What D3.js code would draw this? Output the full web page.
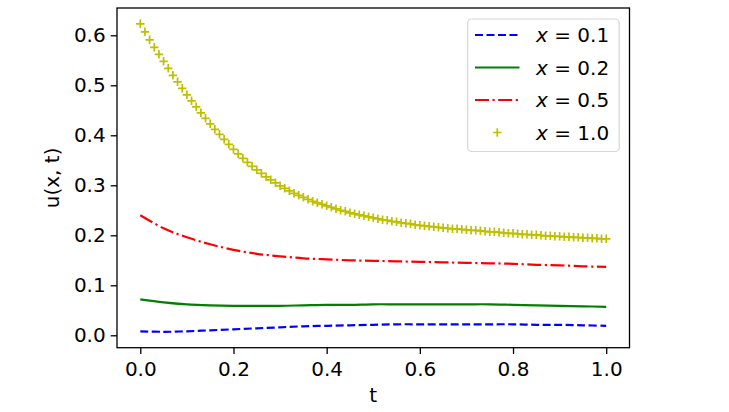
<!DOCTYPE html>
<html>
<head>
<meta charset="utf-8">
<script src="https://cdn.jsdelivr.net/npm/d3@7"></script>
<style>
  body { margin: 0; background: #fff; }
  text { font-family: "DejaVu Sans", sans-serif; fill: #000; }
</style>
</head>
<body>
<div id="chart"></div>
<script>
// t grid for the three lines (step 0.05)
var tLine = [0, 0.05, 0.1, 0.15, 0.2, 0.25, 0.3, 0.35, 0.4, 0.45, 0.5,
  0.55, 0.6, 0.65, 0.7, 0.75, 0.8, 0.85, 0.9, 0.95, 1.0];

var u01 = [0.008, 0.007, 0.008, 0.010, 0.012, 0.014, 0.016, 0.018, 0.019, 0.020, 0.021,
  0.022, 0.022, 0.022, 0.022, 0.022, 0.022, 0.021, 0.021, 0.020, 0.019];

var u02 = [0.072, 0.066, 0.062, 0.060, 0.059, 0.059, 0.059, 0.060, 0.061, 0.061, 0.062,
  0.062, 0.062, 0.062, 0.062, 0.062, 0.061, 0.060, 0.059, 0.058, 0.057];

var u05 = [0.240, 0.214, 0.196, 0.182, 0.171, 0.163, 0.158, 0.154, 0.152, 0.150, 0.149,
  0.148, 0.147, 0.146, 0.145, 0.144, 0.143, 0.141, 0.140, 0.138, 0.137];

// x = 1.0 is drawn with markers only, one every 0.01
var tMark = d3.range(101).map(function (i) { return i / 100; });
var u10 = [0.623, 0.607, 0.591, 0.576, 0.562, 0.548, 0.534, 0.520, 0.507, 0.494,
  0.481, 0.469, 0.457, 0.445, 0.434, 0.423, 0.412, 0.402, 0.392, 0.382,
  0.372, 0.363, 0.354, 0.346, 0.338, 0.331, 0.324, 0.317, 0.311, 0.305,
  0.299, 0.294, 0.289, 0.284, 0.280, 0.276, 0.272, 0.268, 0.265, 0.262,
  0.259, 0.256, 0.253, 0.250, 0.248, 0.245, 0.243, 0.241, 0.239, 0.237,
  0.235, 0.233, 0.231, 0.230, 0.228, 0.227, 0.225, 0.224, 0.223, 0.221,
  0.220, 0.219, 0.218, 0.217, 0.216, 0.215, 0.214, 0.213, 0.213, 0.212,
  0.211, 0.210, 0.210, 0.209, 0.208, 0.207, 0.207, 0.206, 0.205, 0.204,
  0.204, 0.203, 0.202, 0.202, 0.201, 0.201, 0.200, 0.199, 0.199, 0.198,
  0.198, 0.197, 0.197, 0.196, 0.196, 0.195, 0.195, 0.194, 0.194, 0.193,
  0.193];

var xTicks = [0, 0.2, 0.4, 0.6, 0.8, 1.0];
var yTicks = [0, 0.1, 0.2, 0.3, 0.4, 0.5, 0.6];
var legendLabels = ["0.1", "0.2", "0.5", "1.0"];

// Dimensions
var W = 729, H = 412;
var margin = { top: 8, right: 100, bottom: 64, left: 117 },
  width = 629.5 - margin.left,
  height = 347.7 - margin.top;

var svg = d3.select("#chart")
  .append("svg")
  .attr("width", W)
  .attr("height", H);

var g = svg.append("g")
  .attr("transform", "translate(" + margin.left + "," + margin.top + ")");

// Scales (matplotlib-style 5% padding)
var xScale = d3.scaleLinear().domain([-0.05, 1.05]).range([0, width]);
var yScale = d3.scaleLinear().domain([-0.0248, 0.6546]).range([height, 0]);

var fontSize = 20;

// Lines
var series = [
  { vals: u01, color: "#0000ff", dash: "8,3.5" },
  { vals: u02, color: "#008000", dash: null },
  { vals: u05, color: "#ff0000", dash: "14,3.5,2.2,3.5" }
];

var line = d3.line()
  .x(function (d) { return xScale(d[0]); })
  .y(function (d) { return yScale(d[1]); })
  .curve(d3.curveCatmullRom);

series.forEach(function (s) {
  g.append("path")
    .datum(tLine.map(function (t, i) { return [t, s.vals[i]]; }))
    .attr("fill", "none")
    .attr("stroke", s.color)
    .attr("stroke-width", 2.2)
    .attr("stroke-dasharray", s.dash)
    .attr("d", line);
});

// '+' markers
var plus = "M-4.2,0H4.2M0,-4.2V4.2";
g.selectAll(".mk")
  .data(tMark.map(function (t, i) { return [t, u10[i]]; }))
  .enter()
  .append("path")
  .attr("class", "mk")
  .attr("transform", function (d) {
    return "translate(" + xScale(d[0]) + "," + yScale(d[1]) + ")";
  })
  .attr("d", plus)
  .attr("stroke", "#bfbf00")
  .attr("stroke-width", 1.7)
  .attr("fill", "none");

// Axes
var xAxis = d3.axisBottom(xScale).tickValues(xTicks)
  .tickFormat(d3.format(".1f")).tickSize(6.3).tickPadding(5);
var yAxis = d3.axisLeft(yScale).tickValues(yTicks)
  .tickFormat(d3.format(".1f")).tickSize(6.3).tickPadding(5);

var gx = g.append("g").attr("transform", "translate(0," + height + ")").call(xAxis);
var gy = g.append("g").call(yAxis);

[gx, gy].forEach(function (ax) {
  ax.select(".domain").remove();
  ax.selectAll(".tick line").attr("stroke", "#000").attr("stroke-width", 1.3);
  ax.selectAll(".tick text")
    .style("font-family", "DejaVu Sans")
    .style("font-size", fontSize + "px")
    .attr("fill", "#000");
});
gx.selectAll(".tick text").attr("dy", "0.85em");

// Frame
g.append("rect")
  .attr("width", width)
  .attr("height", height)
  .attr("fill", "none")
  .attr("stroke", "#000")
  .attr("stroke-width", 1.3);

// Axis labels
svg.append("text")
  .attr("x", margin.left + width / 2)
  .attr("y", 402)
  .attr("text-anchor", "middle")
  .style("font-size", fontSize + "px")
  .text("t");

svg.append("text")
  .attr("transform", "translate(59," + (margin.top + height / 2) + ") rotate(-90)")
  .attr("text-anchor", "middle")
  .style("font-size", fontSize + "px")
  .text("u(x, t)");

// Legend
var leg = svg.append("g");
leg.append("rect")
  .attr("x", 467.7)
  .attr("y", 19)
  .attr("width", 151.5)
  .attr("height", 132.5)
  .attr("rx", 4)
  .attr("fill", "#fff")
  .attr("fill-opacity", 0.8)
  .attr("stroke", "#d6d6d6")
  .attr("stroke-width", 1.2);

var rowY = d3.scaleLinear().domain([0, 3]).range([35, 132.5]);

legendLabels.forEach(function (lab, i) {
  var y = rowY(i);
  if (i < 3) {
    leg.append("line")
      .attr("x1", 475).attr("x2", 519.5)
      .attr("y1", y).attr("y2", y)
      .attr("stroke", series[i].color)
      .attr("stroke-width", 2.2)
      .attr("stroke-dasharray", series[i].dash);
  } else {
    leg.append("path")
      .attr("transform", "translate(497.3," + y + ")")
      .attr("d", plus)
      .attr("stroke", "#bfbf00")
      .attr("stroke-width", 1.7);
  }
  var t = leg.append("text")
    .attr("x", 536)
    .attr("y", y)
    .attr("dy", "0.36em")
    .style("font-size", fontSize + "px");
  t.append("tspan").style("font-style", "italic").text("x");
  t.append("tspan").text(" = " + lab);
});
</script>
</body>
</html>
